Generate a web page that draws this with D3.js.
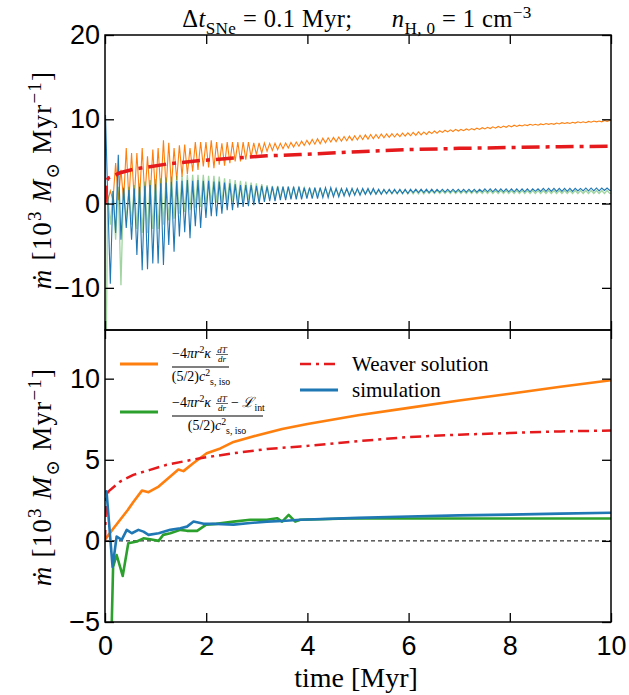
<!DOCTYPE html>
<html><head><meta charset="utf-8">
<script src="https://cdn.jsdelivr.net/npm/d3@7"></script>
<style>body{margin:0;background:#fff} text{white-space:pre}</style>
</head><body><svg id="c" width="629" height="695"></svg>
<script>
// ---------- DATA ----------
const P = 0.105; // SN cycle length as seen on the time axis (Myr)
// top panel: oscillating raw curves (values per SN cycle)
const orangeTroughs = [0.3,0.4,0.4,0.4,0.4,0.5,0.5,0.6,0.8,1.1, 1.4,1.7,2.0,2.8,3.2,3.5,3.8,4.0,4.4,4.3,
  4.2,4.6,4.5,4.8,5.0,5.0,5.2,5.5,5.8,6.0, 6.2,6.3,6.4,6.5,6.6,6.7,6.8,6.9,7.0,7.05,
  7.1,7.2,7.3,7.35,7.4,7.45,7.5,7.55,7.6,7.65, 7.7,7.75,7.8,7.85,7.9,7.95,8.0,8.05,8.1,8.15,
  8.2,8.3,8.35,8.45,8.5,8.55,8.6,8.65,8.7,8.75, 8.8,8.85,8.9,8.95,9.0,9.05,9.1,9.15,9.2,9.25,
  9.3,9.3,9.35,9.4,9.4,9.45,9.5,9.5,9.55,9.6, 9.6,9.65,9.7,9.7,9.75];
const orangePeaks = [1.5,4.8,4.0,6.6,6.0,6.0,6.6,5.6,6.4,6.6, 7.5,7.2,6.6,6.9,7.0,6.6,7.3,7.3,7.3,7.5,
  7.3,7.15,7.3,7.3,7.3,7.3,7.3,7.2,7.2,7.2, 7.15,7.15,7.15,7.2,7.25,7.3,7.4,7.5,7.6,7.7,
  7.75,7.8,7.85,7.9,7.95,8.0,8.05,8.1,8.15,8.2, 8.2,8.25,8.25,8.3,8.3,8.35,8.4,8.45,8.5,8.5,
  8.55,8.6,8.65,8.7,8.75,8.8,8.8,8.85,8.9,8.95, 9.0,9.05,9.1,9.15,9.2,9.25,9.3,9.3,9.35,9.4,
  9.4,9.45,9.5,9.5,9.55,9.6,9.6,9.65,9.7,9.7, 9.75,9.8,9.8,9.85,9.85];
const bluePeaks = [1.0,1.5,5.8,1.8,1.6,1.8,2.0,2.1,2.2,2.3, 2.4,2.5,2.6,2.7,2.7,2.8,2.7,2.8,2.7,2.7,
  2.6,2.6,2.5,2.4,2.3,2.2,2.2,2.2,2.1,2.1, 2.0,2.0,2.0,2.0,2.0,2.0,2.0,1.9,1.9,1.9,
  1.9,1.9,1.9,1.8,1.8,1.8,1.8,1.8,1.8,1.8, 1.8,1.7,1.7,1.7,1.7,1.7,1.7,1.7,1.7,1.7,
  1.7,1.7,1.7,1.7,1.7,1.7,1.7,1.7,1.7,1.7, 1.7,1.75,1.75,1.75,1.75,1.75,1.75,1.75,1.75,1.75,
  1.75,1.75,1.8,1.8,1.8,1.8,1.8,1.8,1.8,1.8, 1.85,1.85,1.85,1.85,1.85];
const blueTroughs = [-9.5,-3.5,-4.3,-2.9,-4.3,-6.1,-7.9,-7.8,-7.1,-7.1, -7.3,-4.9,-5.7,-3.9,-3.4,-4.1,-2.7,-2.9,-1.7,-1.5,
  -1.5,-1.2,-0.8,-0.8,-0.5,-0.4,-0.3,-0.2,0.0,0.2, 0.3,0.3,0.4,0.4,0.5,0.5,0.5,0.6,0.6,0.6,
  0.7,0.7,0.8,0.8,0.9,0.9,1.0,1.0,1.1,1.1, 1.1,1.1,1.2,1.2,1.2,1.2,1.2,1.3,1.3,1.3,
  1.3,1.3,1.35,1.35,1.35,1.35,1.35,1.35,1.35,1.35, 1.4,1.4,1.4,1.4,1.4,1.4,1.4,1.4,1.4,1.4,
  1.45,1.45,1.45,1.45,1.45,1.45,1.45,1.45,1.5,1.5, 1.5,1.5,1.5,1.55,1.55];
const greenPeaks = [1.0,1.5,2.0,2.0,2.0,2.2,2.4,2.6,2.8,2.9, 3.0,3.1,3.2,3.3,3.3,3.4,3.4,3.4,3.4,3.3,
  3.3,3.2,3.0,2.9,2.8,2.7,2.6,2.5,2.4,2.3, 2.2,2.1,2.1,2.0,2.0,1.9,1.9,1.9,1.8,1.8,
  1.8,1.75,1.75,1.7,1.7,1.7,1.65,1.65,1.65,1.6, 1.6,1.6,1.6,1.6,1.6,1.6,1.6,1.6,1.6,1.6,
  1.55,1.55,1.55,1.55,1.55,1.55,1.55,1.55,1.55,1.55, 1.55,1.55,1.55,1.55,1.55,1.55,1.55,1.55,1.55,1.55,
  1.55,1.55,1.55,1.55,1.55,1.55,1.55,1.55,1.55,1.55, 1.55,1.55,1.55,1.55,1.55];
const greenTroughs = [-2.5,-4.3,-9.7,-2.0,-2.5,-3.0,-3.5,-3.5,-3.0,-3.0, -2.5,-2.0,-1.8,-1.2,-1.0,-0.8,-0.5,-0.4,-0.2,0.0,
  0.1,0.1,0.2,0.2,0.3,0.3,0.4,0.4,0.5,0.5, 0.6,0.6,0.7,0.7,0.8,0.8,0.9,0.9,1.0,1.0,
  1.0,1.05,1.05,1.05,1.1,1.1,1.1,1.1,1.15,1.15, 1.15,1.15,1.15,1.15,1.15,1.15,1.15,1.15,1.15,1.15,
  1.2,1.2,1.2,1.2,1.2,1.2,1.2,1.2,1.2,1.2, 1.2,1.2,1.2,1.2,1.2,1.2,1.2,1.2,1.2,1.2,
  1.2,1.2,1.2,1.2,1.2,1.2,1.2,1.2,1.2,1.2, 1.2,1.2,1.2,1.2,1.2];
// Weaver solution (both panels)
const weaverT = [0, 0.02, 0.07, 0.3, 0.56, 0.89, 1.22, 1.88, 2.54, 3.2, 3.86, 5, 6, 7, 8, 9, 10];
const weaverV = [0, 2.6, 3.05, 3.66, 4.07, 4.38, 4.69, 5.1, 5.4, 5.66, 5.82, 6.15, 6.4, 6.55, 6.65, 6.75, 6.8];
// bottom panel: smoothed curves
const condT = [0, 0.03, 0.15, 0.3, 0.45, 0.56, 0.73, 0.86, 1.06, 1.29, 1.45, 1.55, 1.75, 2.01, 2.28, 2.54, 3.0, 3.5, 4, 5, 6, 7, 8, 9, 10];
const condV = [0.1, 0.2, 0.7, 1.3, 1.9, 2.4, 3.1, 3.0, 3.35, 3.97, 4.4, 4.3, 4.8, 5.4, 5.7, 6.1, 6.5, 6.9, 7.2, 7.75, 8.2, 8.65, 9.07, 9.5, 9.9];
const simT = [0, 0.03, 0.15, 0.23, 0.33, 0.43, 0.53, 0.66, 0.76, 0.86, 1.06, 1.29, 1.49, 1.62, 1.75, 1.95, 2.2, 2.54, 2.87, 3.2, 3.5, 3.86, 5, 6, 7, 8, 9, 10];
const simV = [3.0, 3.05, -1.6, 0.27, 0.06, 0.68, 0.47, 0.68, 0.57, 0.37, 0.47, 0.68, 0.78, 0.88, 1.19, 1.05, 1.05, 1.0, 1.1, 1.19, 1.23, 1.3, 1.42, 1.5, 1.57, 1.62, 1.68, 1.73];
const coolT = [0.1, 0.13, 0.16, 0.23, 0.35, 0.46, 0.63, 0.76, 0.89, 1.06, 1.15, 1.29, 1.49, 1.62, 1.82, 2.0, 2.2, 2.54, 2.87, 3.2, 3.4, 3.5, 3.63, 3.76, 3.86, 5, 6, 7, 8, 9, 10];
const coolV = [-12, -5.5, -1.6, -0.87, -2.16, -0.14, -0.04, 0.16, 0.1, 0.0, 0.37, 0.47, 0.68, 0.62, 0.62, 1.0, 1.05, 1.19, 1.3, 1.3, 1.4, 1.19, 1.6, 1.19, 1.3, 1.4, 1.38, 1.38, 1.38, 1.38, 1.38];
const xTicks = [0, 2, 4, 6, 8, 10];
const yTicksTop = [-10, 0, 10, 20];
const yTicksBot = [-5, 0, 5, 10];

// ---------- CHART ----------
const C = {orange:'#ff7f0e', blue:'#1f77b4', green:'#2ca02c', red:'#e41a1c'};
const svg = d3.select('#c');
const L = 105, R = 611;
const x = d3.scaleLinear().domain([0, 10]).range([L, R]);
const yTop = d3.scaleLinear().domain([-15, 20]).range([330, 35]);
const yBot = d3.scaleLinear().domain([-5, 13]).range([622, 330]);
const SANS = '"Liberation Sans", Arial, sans-serif';
const SERIF = '"Liberation Serif", "DejaVu Serif", serif';

function oscSeries(start, first, second) {
  const pts = start.slice();
  for (let k = 0; k < first.length; k++) {
    pts.push([P * k + P / 2, first[k]]);
    pts.push([P * (k + 1), second[k]]);
  }
  pts.push([10, second[second.length - 1]]);
  return pts;
}
const zip = (a, b) => a.map((t, i) => [t, b[i]]);

const defs = svg.append('defs');
function clip(id, y) {
  defs.append('clipPath').attr('id', id).append('rect')
    .attr('x', L).attr('y', y.range()[1]).attr('width', R - L).attr('height', y.range()[0] - y.range()[1]);
}
clip('cT', yTop); clip('cB', yBot);

function axes(y, yt, labelsX) {
  const g = svg.append('g');
  const [yb, ytop] = y.range();
  g.append('g').attr('transform', `translate(${L},0)`)
    .call(d3.axisLeft(y).tickValues(yt).tickSize(-9).tickPadding(5).tickFormat(d => d < 0 ? '\u2212' + Math.abs(d) : d));
  g.append('g').attr('transform', `translate(${R},0)`)
    .call(d3.axisRight(y).tickValues(yt).tickSize(-9).tickFormat(''));
  g.append('g').attr('transform', `translate(0,${ytop})`)
    .call(d3.axisTop(x).tickValues(xTicks).tickSize(-9).tickFormat(''));
  g.append('g').attr('transform', `translate(0,${yb})`)
    .call(d3.axisBottom(x).tickValues(xTicks).tickSize(-9).tickPadding(14).tickFormat(labelsX ? d => d : ''));
  g.selectAll('.domain').remove();
  g.selectAll('.tick line').attr('stroke', '#000').attr('stroke-width', 1.3);
  g.selectAll('.tick text').attr('font-family', SANS).attr('font-size', 27).attr('fill', '#000');
  return g;
}

function line(y) { return d3.line().x(d => x(d[0])).y(d => y(d[1])); }

// ----- top panel -----
const topG = svg.append('g').attr('clip-path', 'url(#cT)');
topG.append('line').attr('x1', L).attr('x2', R).attr('y1', yTop(0)).attr('y2', yTop(0))
  .attr('stroke', '#000').attr('stroke-width', 1).attr('stroke-dasharray', '4,3');
topG.append('path').datum(oscSeries([[0, 0], [0.02, 0.3]], orangeTroughs, orangePeaks))
  .attr('d', line(yTop)).attr('fill', 'none').attr('stroke', C.orange).attr('stroke-width', 1.1);
topG.append('path').datum(oscSeries([[0.005, -30]], greenPeaks, greenTroughs))
  .attr('d', line(yTop)).attr('fill', 'none').attr('stroke', C.green).attr('stroke-opacity', 0.45).attr('stroke-width', 1.3);
topG.append('path').datum(oscSeries([[0, 0], [0.01, 10.5]], bluePeaks, blueTroughs))
  .attr('d', line(yTop)).attr('fill', 'none').attr('stroke', C.blue).attr('stroke-width', 1.1);
topG.append('path').datum(zip(weaverT, weaverV))
  .attr('d', line(yTop)).attr('fill', 'none').attr('stroke', C.red).attr('stroke-width', 3.5)
  .attr('stroke-dasharray', '18,6,4,6');
axes(yTop, yTicksTop, false);

// ----- bottom panel -----
const botG = svg.append('g').attr('clip-path', 'url(#cB)');
botG.append('line').attr('x1', L).attr('x2', R).attr('y1', yBot(0)).attr('y2', yBot(0))
  .attr('stroke', '#000').attr('stroke-width', 1).attr('stroke-dasharray', '4,3');
botG.append('path').datum(zip(condT, condV)).attr('d', line(yBot)).attr('fill', 'none')
  .attr('stroke', C.orange).attr('stroke-width', 2.6).attr('stroke-linejoin', 'round');
botG.append('path').datum(zip(coolT, coolV)).attr('d', line(yBot)).attr('fill', 'none')
  .attr('stroke', C.green).attr('stroke-width', 2.6).attr('stroke-linejoin', 'round');
botG.append('path').datum(zip(weaverT, weaverV)).attr('d', line(yBot)).attr('fill', 'none')
  .attr('stroke', C.red).attr('stroke-width', 2.5).attr('stroke-dasharray', '11,5,3,5');
botG.append('path').datum(zip(simT, simV)).attr('d', line(yBot)).attr('fill', 'none')
  .attr('stroke', C.blue).attr('stroke-width', 2.6).attr('stroke-linejoin', 'round');
axes(yBot, yTicksBot, true);

// frames
[yTop, yBot].forEach(y => svg.append('rect').attr('x', L).attr('y', y.range()[1])
  .attr('width', R - L).attr('height', y.range()[0] - y.range()[1])
  .attr('fill', 'none').attr('stroke', '#000').attr('stroke-width', 1.5));

// ----- rich text helper -----
function rich(sel, segs, size) {
  let cur = 0;
  segs.forEach(s => {
    const target = s.sup ? -0.38 * size : s.sub ? 0.28 * size : 0;
    const ts = sel.append('tspan').attr('dy', target - cur).text(s.t)
      .attr('font-size', (s.sup || s.sub) ? size * 0.7 : size)
      .attr('font-style', s.i ? 'italic' : 'normal');
    if (s.dx) ts.attr('dx', s.dx);
    cur = target;
  });
}

// title
rich(svg.append('text').attr('x', 357).attr('y', 27).attr('text-anchor', 'middle')
  .attr('font-family', SERIF).attr('fill', '#000').attr('letter-spacing', 0.4),
  [{t:'\u0394'}, {t:'t', i:1}, {t:'SNe', sub:1}, {t:' = 0.1 Myr;      '}, {t:'n', i:1}, {t:'H, 0', sub:1},
   {t:' = 1 cm'}, {t:'\u22123', sup:1}], 24.5);

// y labels
const ylab = [{t:'\u1E41', i:1}, {t:' [10'}, {t:'3', sup:1}, {t:' '}, {t:'M', i:1}, {t:'\u2299', sub:1},
  {t:' Myr'}, {t:'\u22121', sup:1}, {t:']'}];
[[yTop, 180], [yBot, 477]].forEach(([y, cy]) => {
  rich(svg.append('text').attr('transform', `translate(51,${cy}) rotate(-90)`).attr('text-anchor', 'middle')
    .attr('font-family', SERIF).attr('fill', '#000').attr('letter-spacing', 1.2), ylab, 27);
});

// x label
rich(svg.append('text').attr('x', 356).attr('y', 687).attr('text-anchor', 'middle')
  .attr('font-family', SERIF).attr('fill', '#000'), [{t:'time [Myr]'}], 28);

// ----- legend -----
const lg = svg.append('g').attr('font-family', SERIF).attr('fill', '#000');
function legLine(x1, y, color, dash, w) {
  lg.append('line').attr('x1', x1).attr('x2', x1 + 38).attr('y1', y).attr('y2', y)
    .attr('stroke', color).attr('stroke-width', w || 3).attr('stroke-dasharray', dash || null);
}
function dTdr(xp, yb) {
  lg.append('text').attr('x', xp).attr('y', yb - 5).attr('font-size', 9).attr('font-style', 'italic')
    .attr('text-anchor', 'middle').text('dT');
  lg.append('line').attr('x1', xp - 6).attr('x2', xp + 6).attr('y1', yb - 3.5).attr('y2', yb - 3.5)
    .attr('stroke', '#000').attr('stroke-width', 0.6);
  lg.append('text').attr('x', xp).attr('y', yb + 4).attr('font-size', 9).attr('font-style', 'italic')
    .attr('text-anchor', 'middle').text('dr');
}
function numer(x0, yb) {
  rich(lg.append('text').attr('x', x0).attr('y', yb),
    [{t:'\u22124'}, {t:'\u03C0r', i:1}, {t:'2', sup:1}, {t:'\u03BA', i:1}], 14);
}
function denom(cx, yb) {
  rich(lg.append('text').attr('x', cx).attr('y', yb).attr('text-anchor', 'middle'),
    [{t:'(5/2)'}, {t:'c', i:1}, {t:'2', sup:1}, {t:'s, iso', sub:1}], 14);
}
// orange
legLine(120, 364, C.orange);
numer(172, 358); dTdr(222, 358);
lg.append('line').attr('x1', 172).attr('x2', 229).attr('y1', 367).attr('y2', 367).attr('stroke', '#000').attr('stroke-width', 1.2);
denom(201, 381);
// green
legLine(120, 412, C.green);
numer(172, 407); dTdr(222, 407);
rich(lg.append('text').attr('x', 231).attr('y', 407), [{t:'\u2212 '}, {t:'\u2112', i:1}, {t:'int', sub:1}], 14);
lg.append('line').attr('x1', 172).attr('x2', 263).attr('y1', 416).attr('y2', 416).attr('stroke', '#000').attr('stroke-width', 1.2);
denom(217, 430);
// weaver / simulation
legLine(300, 364, C.red, '11,5,3,5', 2.6);
lg.append('text').attr('x', 352).attr('y', 371).attr('font-size', 21).text('Weaver solution');
legLine(300, 390, C.blue);
lg.append('text').attr('x', 352).attr('y', 397).attr('font-size', 21).text('simulation');
</script>
</body></html>
